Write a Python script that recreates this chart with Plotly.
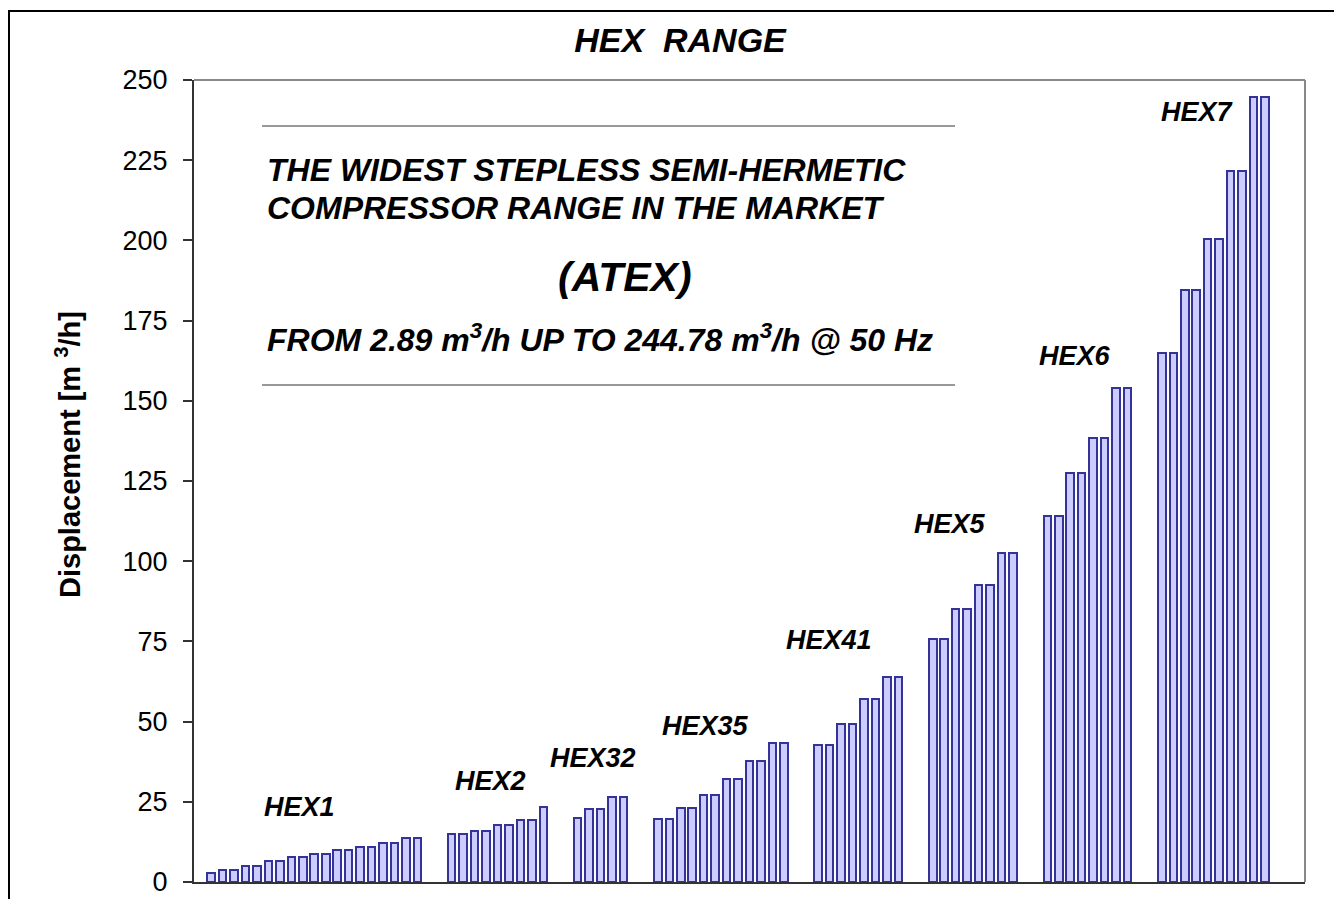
import plotly.graph_objects as go

# ---- data ----
groups = ["HEX1", "HEX2", "HEX32", "HEX35", "HEX41", "HEX5", "HEX6", "HEX7"]
hex1 = [2.89, 3.7, 3.7, 5.1, 5.1, 6.5, 6.5, 7.9, 7.9, 8.7, 8.7, 10.1, 10.1, 10.8, 10.8, 12.3, 12.3, 13.6, 13.6]
hex2 = [15.0, 15.0, 15.9, 15.9, 17.8, 17.8, 19.3, 19.3, 23.5]
hex32 = [20.1, 22.9, 22.9, 26.4, 26.4]
hex35 = [19.5, 19.5, 23.0, 23.0, 27.2, 27.2, 32.2, 32.2, 37.8, 37.8, 43.4, 43.4]
hex41 = [42.7, 42.7, 49.1, 49.1, 57.0, 57.0, 64.0, 64.0]
hex5 = [75.6, 75.6, 85.0, 85.0, 92.7, 92.7, 102.7, 102.7]
hex6 = [114.1, 114.1, 127.6, 127.6, 138.3, 138.3, 153.9, 153.9]
hex7 = [164.8, 164.8, 184.5, 184.5, 200.3, 200.3, 221.7, 221.7, 244.78, 244.78]
series = [hex1, hex2, hex32, hex35, hex41, hex5, hex6, hex7]

y_ticks = [0, 25, 50, 75, 100, 125, 150, 175, 200, 225, 250]

# ---- layout constants ----
GAP = 2  # empty category slots between groups
FONT = "Arial, 'Liberation Sans', sans-serif"
label_pos = {
    "HEX1": (7.7, 23.4), "HEX2": (24.4, 31.5), "HEX32": (33.3, 38.7),
    "HEX35": (43.2, 48.6), "HEX41": (53.9, 75.4), "HEX5": (64.5, 111.6),
    "HEX6": (75.4, 164.0), "HEX7": (86.1, 240.0),
}

xs, ys = [], []
pos = 0
for vals in series:
    for v in vals:
        xs.append(pos)
        ys.append(v)
        pos += 1
    pos += GAP
n_last = pos - GAP - 1

fig = go.Figure()
fig.add_trace(go.Bar(
    x=xs, y=ys, width=0.66,
    marker=dict(color="#CCCCFF", line=dict(color="#333399", width=2)),
    showlegend=False, hoverinfo="y",
))

# page is offset by the 8px body margin, so work in page pixels and subtract it
OFF = 8
PAGE_W, PAGE_H = 1342, 899
W, H = PAGE_W - OFF, PAGE_H - OFF
PL, PR, PT, PB = 194, 1305, 80, 882  # plot area in page pixels
L, T = PL - OFF, PT - OFF
R, B = W - (PR - OFF), H - (PB - OFF)
pw, ph = PR - PL, PB - PT


def px_x(px):
    return (px - PL) / pw


def px_y(py):
    return (PB - py) / ph


annotations = []
for g in groups:
    gx, gy = label_pos[g]
    annotations.append(dict(x=gx, y=gy, xref="x", yref="y", text=f"<b><i>{g}</i></b>",
                            showarrow=False, font=dict(family=FONT, size=27, color="#000"),
                            xanchor="center", yanchor="middle"))

txt_font = dict(family=FONT, size=32, color="#000")
annotations += [
    dict(x=px_x(265), y=px_y(170), xref="paper", yref="paper", xanchor="left", yanchor="middle",
         text="<b><i>THE WIDEST STEPLESS SEMI-HERMETIC</i></b>", showarrow=False, font=txt_font),
    dict(x=px_x(265), y=px_y(208), xref="paper", yref="paper", xanchor="left", yanchor="middle",
         text="<b><i>COMPRESSOR RANGE IN THE MARKET</i></b>", showarrow=False, font=txt_font),
    dict(x=px_x(625), y=px_y(277), xref="paper", yref="paper", xanchor="center", yanchor="middle",
         text="<b><i>(ATEX)</i></b>", showarrow=False, font=dict(family=FONT, size=41, color="#000")),
    dict(x=px_x(265), y=px_y(338), xref="paper", yref="paper", xanchor="left", yanchor="middle",
         text="<b><i>FROM 2.89 m<sup>3</sup>/h UP TO 244.78 m<sup>3</sup>/h @ 50 Hz</i></b>",
         showarrow=False, font=txt_font),
    dict(x=px_x(68), y=px_y(455), xref="paper", yref="paper", xanchor="center", yanchor="middle",
         text="<b>Displacement [m <sup>3</sup>/h]</b>", textangle=-90, showarrow=False,
         font=dict(family=FONT, size=29, color="#000")),
]

shapes = [
    dict(type="line", xref="paper", yref="paper", x0=px_x(262), x1=px_x(955), y0=px_y(126), y1=px_y(126),
         line=dict(color="#333", width=1)),
    dict(type="line", xref="paper", yref="paper", x0=px_x(262), x1=px_x(955), y0=px_y(385), y1=px_y(385),
         line=dict(color="#333", width=1)),
    dict(type="line", xref="paper", yref="paper", x0=0, x1=1, y0=1, y1=1, line=dict(color="#888", width=2)),
    dict(type="line", xref="paper", yref="paper", x0=1, x1=1, y0=0, y1=1, line=dict(color="#888", width=2)),
    # outer chart border
    dict(type="rect", xref="paper", yref="paper", x0=px_x(OFF + 1), x1=px_x(1400), y0=px_y(1000), y1=px_y(11),
         line=dict(color="#000", width=2), fillcolor="rgba(0,0,0,0)", layer="below"),
]

fig.update_layout(
    width=W, height=H,
    margin=dict(l=L, r=R, t=T, b=B, autoexpand=False),
    paper_bgcolor="white", plot_bgcolor="white",
    title=dict(text="<b><i>HEX  RANGE</i></b>", x=px_x(680), xref="paper", xanchor="center",
               y=1 - (40 - OFF) / H, yref="container", yanchor="middle",
               font=dict(family=FONT, size=34, color="#000")),
    xaxis=dict(range=[-1.5, n_last + 3.5], showticklabels=False, ticks="", showgrid=False,
               zeroline=False, showline=True, linecolor="#333", linewidth=2, fixedrange=True),
    yaxis=dict(range=[0, 250], tickvals=y_ticks, ticktext=[str(v) for v in y_ticks],
               ticks="outside", ticklen=9, tickcolor="#333", tickwidth=1.5,
               ticklabelstandoff=10,
               showgrid=False, zeroline=False, showline=True, linecolor="#333", linewidth=2,
               tickfont=dict(family=FONT, size=27, color="#000"), fixedrange=True),
    annotations=annotations,
    shapes=shapes,
    bargap=0,
)

fig.write_html("out.html")
